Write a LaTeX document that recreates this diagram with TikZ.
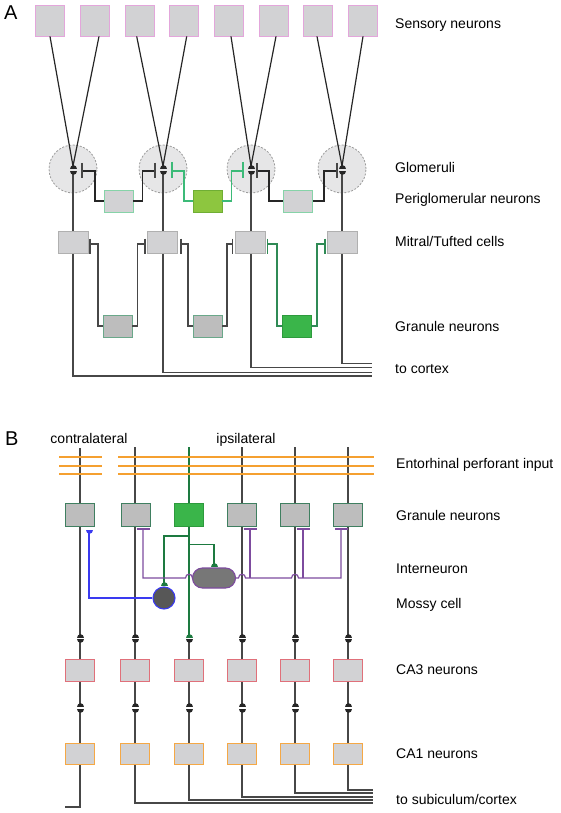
\documentclass[tikz,border=0pt]{standalone}
\usepackage{fontspec}
\setmainfont{Liberation Sans}
\definecolor{lineblk}{HTML}{262626}
\definecolor{colgray}{HTML}{474747}
\definecolor{glomfill}{HTML}{E6E6E7}
\definecolor{glomdash}{HTML}{9A9A9A}
\definecolor{boxfill}{HTML}{D2D2D4}
\definecolor{sensbd}{HTML}{E3A6DB}
\definecolor{pgbd}{HTML}{86D3A8}
\definecolor{pggreen}{HTML}{8DC63F}
\definecolor{pggreenbd}{HTML}{6FAE34}
\definecolor{mitbd}{HTML}{B0B0B0}
\definecolor{granfill}{HTML}{BDBDBD}
\definecolor{granbd}{HTML}{6AA88A}
\definecolor{grangreen}{HTML}{3AB54A}
\definecolor{grangreenbd}{HTML}{2D9A3D}
\definecolor{pgline}{HTML}{3CBA78}
\definecolor{granline}{HTML}{2F8A55}
\definecolor{bgranbd}{HTML}{3F7F60}
\definecolor{bgreen}{HTML}{1D7A40}
\definecolor{purp}{HTML}{7D4B9E}
\definecolor{bluel}{HTML}{3A3AF0}
\definecolor{interfill}{HTML}{777777}
\definecolor{mossyfill}{HTML}{575757}
\definecolor{cathreebd}{HTML}{E0707A}
\definecolor{caonebd}{HTML}{F5A845}
\definecolor{orangel}{HTML}{F5A030}
\newcommand\domeup[3][lineblk]{\fill[#1] ({#2-3.5},#3) .. controls ({#2-3.5},{#3-5}) and ({#2+3.5},{#3-5}) .. ({#2+3.5},#3) -- cycle;}
\newcommand\domedn[3][lineblk]{\fill[#1] ({#2-3.5},#3) .. controls ({#2-3.5},{#3+5}) and ({#2+3.5},{#3+5}) .. ({#2+3.5},#3) -- cycle;}
\begin{document}
\begin{tikzpicture}[x=1pt,y=-1pt,
  lbl/.style={anchor=base west,inner sep=0pt,font=\fontsize{14}{16}\selectfont},
  clbl/.style={anchor=base,inner sep=0pt,font=\fontsize{14}{16}\selectfont},
  panel/.style={anchor=base west,inner sep=0pt,font=\fontsize{20}{22}\selectfont},
  cell/.style={draw,line width=0.8pt,inner sep=0pt,minimum width=29pt,minimum height=22pt,fill=boxfill},
  sens/.style={cell,draw=sensbd,minimum height=31pt},
  pg/.style={cell,draw=pgbd},
  pgg/.style={cell,draw=pggreenbd,fill=pggreen},
  mit/.style={cell,draw=mitbd,minimum width=30pt},
  gran/.style={cell,draw=granbd,fill=granfill},
  grang/.style={cell,draw=grangreenbd,fill=grangreen},
  bgran/.style={cell,draw=bgranbd,fill=granfill,minimum height=23pt},
  bgrang/.style={cell,draw=grangreenbd,fill=grangreen,minimum height=23pt},
  cathree/.style={cell,draw=cathreebd},
  caone/.style={cell,draw=caonebd,minimum height=21pt},
  glom/.style={circle,draw=glomdash,dash pattern=on 2pt off 1.6pt,fill=glomfill,line width=0.8pt,minimum size=48pt,inner sep=0pt},
  axon/.style={draw=lineblk,line width=1.2pt},
  colw/.style={draw=colgray,line width=1.4pt},
  conw/.style={draw=colgray,line width=1.3pt},
  pgw/.style={draw=pgline,line width=1.2pt},
  grw/.style={draw=granline,line width=1.3pt},
  bar/.style={line width=1.4pt},
  purw/.style={draw=purp,line width=1.2pt},
  bluew/.style={draw=bluel,line width=1.2pt},
  bgw/.style={draw=bgreen,line width=1.2pt},
  orw/.style={draw=orangel,line width=1.2pt}]
\useasboundingbox (0,0) rectangle (560,813);

% ================= Panel A =================
\node[panel] (pa) at (4,19.5) {A};
% glomeruli
\node[glom] (gl1) at (73,169) {};
\node[glom] (gl2) at (163,169) {};
\node[glom] (gl3) at (251,169) {};
\node[glom] (gl4) at (342,169) {};
% sensory neurons
\node[sens] (s1) at (49.5,20.5) {};
\node[sens] (s2) at (94.5,20.5) {};
\node[sens] (s3) at (139.5,20.5) {};
\node[sens] (s4) at (184,20.5) {};
\node[sens] (s5) at (228.5,20.5) {};
\node[sens] (s6) at (273.5,20.5) {};
\node[sens] (s7) at (318,20.5) {};
\node[sens] (s8) at (363,20.5) {};
% synapse points
\coordinate (t1) at (73,166); \coordinate (t2) at (163,166);
\coordinate (t3) at (251,166); \coordinate (t4) at (342,166);
\draw[axon] ([xshift=0.5pt]s1.south) -- (t1);
\draw[axon] ([xshift=4.5pt]s2.south) -- (t1);
\draw[axon] ([xshift=-2.8pt]s3.south) -- (t2);
\draw[axon] ([xshift=2.7pt]s4.south) -- (t2);
\draw[axon] ([xshift=2.5pt]s5.south) -- (t3);
\draw[axon] ([xshift=2.5pt]s6.south) -- (t3);
\draw[axon] ([xshift=-1pt]s7.south) -- (t4);
\draw[axon] ([xshift=0pt]s8.south) -- (t4);
% mitral columns
\coordinate (mb1) at (73,376); \coordinate (mb2) at (163,372.3);
\coordinate (mb3) at (251,367.3); \coordinate (mb4) at (342,363.3);
\coordinate (mr) at (372,0);
\draw[colw] (73,172) -- (mb1) -- (mb1 -| mr);
\draw[colw] (163,172) -- (mb2) -- (mb2 -| mr);
\draw[colw] (251,172) -- (mb3) -- (mb3 -| mr);
\draw[colw] (342,172) -- (mb4) -- (mb4 -| mr);
\foreach \x in {73,163,251,342}{\domeup{\x}{169.1}\domedn{\x}{170.9}}
% periglomerular neurons
\node[pg] (p1) at (118.5,201) {};
\node[pgg] (p2) at (207.5,201) {};
\node[pg] (p3) at (298,201) {};
% glomerular bars
\coordinate (gb1) at (82,171); \coordinate (gb2) at (155,171);
\coordinate (gb3) at (172,171); \coordinate (gb4) at (243,171);
\coordinate (gb5) at (257,171); \coordinate (gb6) at (337,171);
\draw[axon] (gb1) -- ++(13,0) |- (p1.west);
\draw[axon] (p1.east) -- ++(9,0) |- (gb2);
\draw[pgw] (gb3) -- ++(12,0) |- (p2.west);
\draw[pgw] (p2.east) -- ++(9,0) |- (gb4);
\draw[axon] (gb5) -- ++(12,0) |- (p3.west);
\draw[axon] (p3.east) -- ++(11,0) |- (gb6);
\foreach \c in {gb1,gb2,gb5,gb6}{\draw[bar,draw=colgray] (\c) ++(0,-8) -- ++(0,15.5);}
\foreach \c in {gb3,gb4}{\draw[bar,draw=pgline] (\c) ++(0,-9) -- ++(0,16);}
% mitral cells
\node[mit] (m1) at (73,242) {};
\node[mit] (m2) at (162.5,242) {};
\node[mit] (m3) at (250.5,242) {};
\node[mit] (m4) at (342.5,242) {};
% granule neurons A
\node[gran] (g1) at (117.5,326) {};
\node[gran] (g2) at (207.5,326) {};
\node[grang] (g3) at (296.5,326) {};
\coordinate (mbar1) at (90,244); \coordinate (mbar2) at (145,244);
\coordinate (mbar3) at (181,244); \coordinate (mbar4) at (232.5,244);
\coordinate (mbar5) at (267.5,244); \coordinate (mbar6) at (325,244);
\draw[conw] (mbar1) -- ++(8,0) |- (g1.west);
\draw[conw] (g1.east) -- ++(5,0) |- (mbar2);
\draw[conw] (mbar3) -- ++(7,0) |- (g2.west);
\draw[conw] (g2.east) -- ++(4.5,0) |- (mbar4);
\draw[grw] (mbar5) -- ++(9.5,0) |- (g3.west);
\draw[grw] (g3.east) -- ++(5.5,0) |- (mbar6);
\foreach \c in {mbar1,mbar2,mbar3,mbar4}{\draw[bar,draw=colgray] (\c) ++(0,-5.5) -- ++(0,15);}
\foreach \c in {mbar5,mbar6}{\draw[bar,draw=granline] (\c) ++(0,-5.5) -- ++(0,15);}
% labels A
\node[lbl] (la1) at (395,29) {Sensory neurons};
\node[lbl] (la2) at (395,172) {Glomeruli};
\node[lbl] (la3) at (395,204) {Periglomerular neurons};
\node[lbl] (la4) at (395,246) {Mitral/Tufted cells};
\node[lbl] (la5) at (395,331) {Granule neurons};
\node[lbl] (la6) at (395,373) {to cortex};

% ================= Panel B =================
\node[panel] (pb) at (5,445.5) {B};
\node[clbl] (lc) at (89,443) {contralateral};
\node[clbl] (li) at (246,443) {ipsilateral};
% columns
\foreach \x/\yb in {135/803,242/797,295/793,348/790}{
  \draw[colw] (\x,447) -- (\x,636);
  \draw[colw] (\x,641) -- (\x,706);
  \draw[colw] (\x,711) -- (\x,\yb) -- (373,\yb);
}
\draw[colw] (80,448) -- (80,636);
\draw[colw] (80,641) -- (80,706);
\draw[colw] (80,711) -- (80,807) -- (65,807);
\draw[bgw,line width=1.3pt] (189,447) -- (189,636);
\draw[colw] (189,641) -- (189,706);
\draw[colw] (189,711) -- (189,800) -- (373,800);
\foreach \x in {80,135,242,295,348}{\domeup{\x}{637.6}}
\domeup[bgreen]{189}{637.6}
\foreach \x in {80,135,189,242,295,348}{\domedn{\x}{639.4}\domeup{\x}{707.4}\domedn{\x}{709.2}}
% perforant path
\foreach \y in {457,466,474}{
  \draw[orw] (59,\y) -- (102,\y);
  \draw[orw] (118,\y) -- (374,\y);
}
% granule neurons B
\node[bgran] (bg1) at (80,514.5) {};
\node[bgran] (bg2) at (135.5,514.5) {};
\node[bgrang] (bg3) at (188.5,514.5) {};
\node[bgran] (bg4) at (241.5,514.5) {};
\node[bgran] (bg5) at (294.5,514.5) {};
\node[bgran] (bg6) at (347.5,514.5) {};
% interneuron and mossy cell
\node[draw=purp,fill=interfill,line width=1.1pt,rounded corners=10pt,minimum width=43pt,minimum height=20pt,inner sep=0pt] (in) at (214,578) {};
\node[circle,draw=bluel,fill=mossyfill,line width=1.1pt,minimum size=22pt,inner sep=0pt] (mc) at (164,598) {};
% green mossy fibre branches
\draw[bgw] (189,536) -| (164,583);
\draw[bgw] (189,544.5) -| (214,564.5);
\domeup[bgreen]{164}{585.8}
\domeup[bgreen]{214}{566.6}
% blue mossy-cell axon
\draw[bluew] (mc.west) -| (89,532);
\domedn[bluel]{89}{529.6}
% purple interneuron axon
\coordinate (pb2) at (143,529); \coordinate (pb4) at (250,529);
\coordinate (pb5) at (303,529); \coordinate (pb6) at (341,529);
\draw[purw] (pb2) |- (185.5,578) .. controls (185.5,573) and (192.5,573) .. (192.5,578) -- (in.west);
\draw[purw] (in.east) -- (238.5,578) .. controls (238.5,573) and (245.5,573) .. (245.5,578) -- (291.5,578) .. controls (291.5,573) and (298.5,573) .. (298.5,578) -- (341,578) -- (pb6);
\draw[purw] (pb4) -- (250,578);
\draw[purw] (pb5) -- (303,578);
\foreach \c in {pb2,pb4,pb5,pb6}{\draw[purw,line width=1.4pt] (\c) ++(-6.5,0) -- ++(13,0);}
% CA3 and CA1
\foreach \x [count=\i] in {79.5,134.5,188.5,241.5,294.5,347.5}{
  \node[cathree] (cathree\i) at (\x,670) {};
  \node[caone] (caone\i) at (\x,753.5) {};
}
% labels B
\node[lbl] (lb1) at (396,468) {Entorhinal perforant input};
\node[lbl] (lb2) at (396,520) {Granule neurons};
\node[lbl] (lb3) at (396,573) {Interneuron};
\node[lbl] (lb4) at (396,608) {Mossy cell};
\node[lbl] (lb5) at (396,674) {CA3 neurons};
\node[lbl] (lb6) at (396,758) {CA1 neurons};
\node[lbl] (lb7) at (396,804) {to subiculum/cortex};
\end{tikzpicture}
\end{document}
